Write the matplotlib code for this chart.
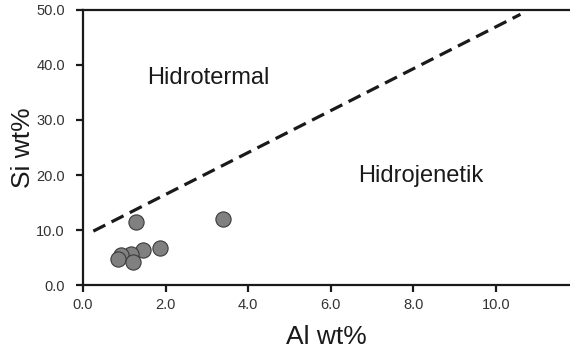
import matplotlib
matplotlib.use("Agg")
import matplotlib.pyplot as plt

plt.rcParams['font.family'] = ['Liberation Sans', 'DejaVu Sans']

# sample points (Al wt%, Si wt%)
al = [1.29, 3.39, 1.87, 1.46, 1.16, 0.91, 0.84, 1.21]
si = [11.4, 12.0, 6.8, 6.4, 5.6, 5.45, 4.8, 4.2]

# boundary line between fields
line_al = [0.25, 10.6]
line_si = [9.8, 49.2]

xticks = [0, 2, 4, 6, 8, 10]
yticks = [0, 10, 20, 30, 40, 50]

fig = plt.figure(figsize=(5.7, 3.55), dpi=100)
ax = fig.add_axes([0.1456, 0.197, 0.8544, 0.775])

ax.plot(line_al, line_si, color="#1a1a1a", linewidth=2.3, linestyle=(0, (4.2, 2.2)))
ax.scatter(al, si, s=120, color="#808080", edgecolor="#3a3a3a", linewidth=0.8, zorder=3)

ax.set_xlim(0, 11.8)
ax.set_ylim(0, 50)
ax.set_xticks(xticks)
ax.set_yticks(yticks)
ax.set_xticklabels([f"{v:.1f}" for v in xticks])
ax.set_yticklabels([f"{v:.1f}" for v in yticks])

for s in ["left", "bottom", "top"]:
    ax.spines[s].set_linewidth(1.6)
    ax.spines[s].set_color("#1a1a1a")
ax.spines["right"].set_visible(False)

ax.tick_params(axis="both", direction="out", length=5, width=1.6, color="#1a1a1a",
               labelsize=10.5, labelcolor="#333333")
ax.tick_params(axis="y", pad=8)
ax.tick_params(axis="x", pad=4)

ax.set_xlabel("Al wt%", fontsize=19, color="#1a1a1a", labelpad=10)
ax.set_ylabel("Si wt%", fontsize=19, color="#1a1a1a", labelpad=1)

ax.text(1.55, 36.5, "Hidrotermal", fontsize=17, color="#1a1a1a", va="baseline")
ax.text(6.67, 18.8, "Hidrojenetik", fontsize=17, color="#1a1a1a", va="baseline")

fig.savefig("out.png", dpi=100)
